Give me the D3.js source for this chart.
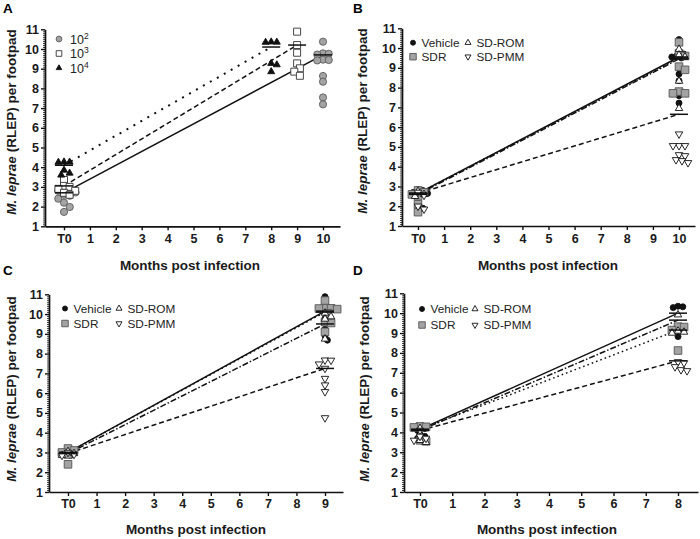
<!DOCTYPE html>
<html><head><meta charset="utf-8">
<script src="https://cdn.jsdelivr.net/npm/d3@7"></script>
<style>
body{margin:0;background:#fff;}
svg{display:block;font-family:Arial,"Liberation Sans",sans-serif;}
</style></head>
<body>
<svg id="chart" width="700" height="539"></svg>
<script>
// ---------------- DATA ----------------
const panelLetters = ["A","B","C","D"];
const xTickLabelsA = ["T0","1","2","3","4","5","6","7","8","9","10"];
const xTickLabelsB = ["T0","1","2","3","4","5","6","7","8","9","10"];
const xTickLabelsC = ["T0","1","2","3","4","5","6","7","8","9"];
const xTickLabelsD = ["T0","1","2","3","4","5","6","7","8"];
const yTicks = [1,2,3,4,5,6,7,8,9,10,11];
const yTitle = ["M. leprae", " (RLEP) per footpad"];
const xTitle = "Months post infection";

// Panel A: inoculum doses
const seriesA = ["10^2","10^3","10^4"];
const endMonthA = [10, 9, 8];
const A_e2_T0 = [2.92,2.85,2.8,2.72,2.6,2.55,2.4,2.2,1.98,1.73];
const A_e2_end = [10.37,9.78,9.76,9.72,9.46,9.44,9.42,8.63,8.34,7.54,7.19];
const A_e3_T0 = [3.35,3.05,3.0,2.9,2.8,2.7,2.6];
const A_e3_end = [10.88,10.2,9.81,9.27,9.02,8.85,8.64];
const A_e4_T0 = [4.27,4.26,4.25,3.85,3.7,3.6];
const A_e4_end = [10.36,10.35,10.34,9.27,9.2,8.85];
const A_means = [[2.7,9.7],[3.05,10.2],[4.1,10.1]];

// Panels B-D: treatment groups
const groups = ["Vehicle","SDR","SD-ROM","SD-PMM"];
const endMonthB = 10, endMonthC = 9, endMonthD = 8;
const B_veh_T0 = [2.85,2.8,2.7,2.65,2.6,2.05,1.9,1.8];
const B_veh_end = [10.43,9.8,9.7,9.6,9.55,9.5,8.69,8.35,7.59,7.22];
const B_sdr_T0 = [2.8,2.7,2.6,2.5,2.1,1.7];
const B_sdr_end = [10.29,9.73,9.6,9.06,8.9,7.8,7.71,7.71];
const B_rom_T0 = [2.75,2.6,2.5];
const B_rom_end = [9.94,9.65,9.55,8.33,6.95];
const B_pmm_T0 = [2.7,2.55,2.0,1.85];
const B_pmm_end = [5.65,5.06,5.06,5.06,4.6,4.55,4.35,4.3,4.2];
const B_means = [[2.65,9.55],[2.65,9.5],[2.6,9.45],[2.65,6.65]];

const C_veh_T0 = [3.15,3.05,2.95,2.85,2.4];
const C_veh_end = [10.88,10.3,10.25,9.78,9.23,8.9,8.68];
const C_sdr_T0 = [3.2,3.1,3.0,2.9,2.4];
const C_sdr_end = [10.68,10.3,10.29,10.28,10.25,10.04,9.6,9.55,9.1];
const C_rom_T0 = [3.05,2.95,2.85];
const C_rom_end = [10.05,9.87,9.75,8.74];
const C_pmm_T0 = [3.0,2.9,2.85];
const C_pmm_end = [7.67,7.66,7.47,7.25,6.74,6.41,6.07,4.75];
const C_means = [[3.0,10.15],[3.0,10.1],[2.95,9.5],[2.95,7.25]];

const D_veh_T0 = [4.3,4.2,4.1,3.9,3.8,3.7,3.55];
const D_veh_end = [10.35,10.32,10.28,9.25,9.2,9.15,8.82];
const D_sdr_T0 = [4.3,4.28,4.25,3.6,3.55];
const D_sdr_end = [9.32,9.3,9.15,8.12];
const D_rom_T0 = [4.2,3.9,3.6,3.5];
const D_rom_end = [9.92,9.1,9.05,9.0];
const D_pmm_T0 = [4.1,3.8,3.7,3.6];
const D_pmm_end = [7.55,7.5,7.3,7.15,7.1];
const D_means = [[4.15,10.0],[4.15,9.15],[4.1,9.65],[4.1,7.6]];

// ---------------- STYLES / LAYOUT ----------------
const svg = d3.select("#chart");
const FONT = 'Arial,"Liberation Sans",sans-serif';

const styleA = [
  {shape:"circle", d:7.2, fill:"#a3a3a3", stroke:"#5c5c5c", dash:null},
  {shape:"square", d:7, fill:"#ffffff", stroke:"#333", dash:"5,3"},
  {shape:"triangle", d:7, fill:"#111", stroke:"#111", dash:"2,6"}
];
const styleG = [
  {shape:"circle", d:6, fill:"#111", stroke:"#111", dash:null},
  {shape:"square", d:7.6, fill:"#a3a3a3", stroke:"#555", dash:"1.6,3"},
  {shape:"triangle", d:7.5, fill:"#fff", stroke:"#111", dash:"6,2,1.5,2"},
  {shape:"triangleDown", d:7.5, fill:"#fff", stroke:"#111", dash:"5,3"}
];

const panels = [
  {letter:0, axisX:45, right:340, t0:64, lastPx:323, lastM:10, yTop:29.3, yBot:226.3,
   ticks:xTickLabelsA, tickBase:243, titleBase:270, titleX:190, ylabX:11, ylabY:122},
  {letter:1, axisX:402, right:695, t0:418, lastPx:679, lastM:endMonthB, yTop:28.3, yBot:226,
   ticks:xTickLabelsB, tickBase:243, titleBase:270, titleX:548, ylabX:362, ylabY:121},
  {letter:2, axisX:49, right:343, t0:68, lastPx:325, lastM:endMonthC, yTop:294.3, yBot:492,
   ticks:xTickLabelsC, tickBase:508, titleBase:534, titleX:196, ylabX:11, ylabY:389},
  {letter:3, axisX:404, right:698, t0:420, lastPx:678, lastM:endMonthD, yTop:293.3, yBot:492,
   ticks:xTickLabelsD, tickBase:508, titleBase:534, titleX:547, ylabX:364, ylabY:389}
];
const letterPos = [[3,12.5],[353,12.5],[3,275],[353,275]];

function symbolPath(shape, d){
  if(shape==="circle") return d3.symbol(d3.symbolCircle, Math.PI*(d/2)*(d/2))();
  if(shape==="square") return d3.symbol(d3.symbolSquare, d*d)();
  return d3.symbol(d3.symbolTriangle, d*d*Math.sqrt(3)/4)();
}

function swarm(values, y, d){
  const order = values.map((v,i)=>({v,i})).sort((a,b)=>b.v-a.v);
  const placed=[]; const res=new Array(values.length);
  for(const p of order){
    const py=y(p.v); let off=0;
    for(let k=0;k<60;k++){
      const c = k===0?0:(k%2?1:-1)*Math.ceil(k/2)*d*0.4;
      if(placed.every(q=>Math.hypot(q.x-c,q.y-py)>=d*0.75)){off=c;break;}
    }
    placed.push({x:off,y:py}); res[p.i]=off;
  }
  return res;
}

function drawAxes(p){
  const g = svg.append("g");
  const x = d3.scaleLinear().domain([0,p.lastM]).range([p.t0,p.lastPx]);
  const y = d3.scaleLinear().domain([1,11]).range([p.yBot,p.yTop]);
  const minor=[]; for(let v=1; v<11.001; v+=0.1){ const r=Math.round(v*10)/10; if(Math.abs(r-Math.round(r))>0.01) minor.push(r);}
  g.append("g").attr("transform",`translate(${p.axisX},0)`)
    .call(d3.axisLeft(y).tickValues(minor).tickSize(2).tickFormat(""))
    .call(s=>s.select(".domain").remove())
    .selectAll("line").attr("stroke","#111").attr("stroke-width",0.8);
  const ya = g.append("g").attr("transform",`translate(${p.axisX},0)`)
    .call(d3.axisLeft(y).tickValues(yTicks).tickSize(4).tickSizeOuter(0).tickPadding(2).tickFormat(d3.format("d")));
  ya.select(".domain").attr("stroke","#111").attr("stroke-width",1.7);
  ya.selectAll(".tick line").attr("stroke","#111").attr("stroke-width",1.4);
  ya.selectAll("text").attr("font-family",FONT).attr("font-weight","bold").attr("font-size",12.5).attr("fill","#1a1a1a");
  const xx = d3.scaleLinear().domain([x.invert(p.axisX), x.invert(p.right)]).range([p.axisX,p.right]);
  const xa = g.append("g").attr("transform",`translate(0,${p.yBot})`)
    .call(d3.axisBottom(xx).tickValues(d3.range(p.ticks.length)).tickSize(4).tickSizeOuter(0).tickPadding(4)
      .tickFormat((d,i)=>p.ticks[i]));
  xa.select(".domain").attr("stroke","#111").attr("stroke-width",1.7);
  xa.selectAll(".tick line").attr("stroke","#111").attr("stroke-width",1.4);
  xa.selectAll("text").attr("font-family",FONT).attr("font-weight","bold").attr("font-size",12.5).attr("fill","#1a1a1a")
    .attr("y",null).attr("dy",null).attr("transform",`translate(0,${p.tickBase-p.yBot})`);
  svg.append("text").attr("x",p.titleX).attr("y",p.titleBase).attr("text-anchor","middle")
    .attr("font-family",FONT).attr("font-weight","bold").attr("font-size",13.5).attr("fill","#1a1a1a").text(xTitle);
  const yl = svg.append("text").attr("transform",`translate(${p.ylabX+4.5},${p.ylabY}) rotate(-90)`)
    .attr("text-anchor","middle").attr("font-family",FONT).attr("font-weight","bold").attr("font-size",13.5).attr("fill","#1a1a1a");
  yl.append("tspan").attr("font-style","italic").text(yTitle[0]);
  yl.append("tspan").text(yTitle[1]);
  svg.append("text").attr("x",letterPos[p.letter][0]).attr("y",letterPos[p.letter][1])
    .attr("font-family",FONT).attr("font-weight","bold").attr("font-size",13.5).text(panelLetters[p.letter]);
  return {x,y};
}

function drawSeries(sc, st, xs, means){
  svg.append("path").attr("d", d3.line()([[sc.x(xs[0]), sc.y(means[0])],[sc.x(xs[1]), sc.y(means[1])]]))
    .attr("fill","none").attr("stroke","#111").attr("stroke-width", st.dash==="2,6"?2:1.5)
    .attr("stroke-dasharray", st.dash);
}
function drawPoints(sc, st, xs, valsList){
  const g = svg.append("g");
  valsList.forEach((vals,k)=>{
    const offs = swarm(vals, sc.y, st.d);
    vals.forEach((v,i)=>{
      g.append("path").attr("d",symbolPath(st.shape, st.d))
        .attr("transform",`translate(${sc.x(xs[k])+offs[i]},${sc.y(v)})${st.shape==="triangleDown"?" rotate(180)":""}`)
        .attr("fill",st.fill).attr("stroke",st.stroke).attr("stroke-width",0.9);
    });
  });
}
function drawMeans(sc, xs, means){
  means.forEach((m,k)=>{
    svg.append("line").attr("x1",sc.x(xs[k])-9).attr("x2",sc.x(xs[k])+9)
      .attr("y1",sc.y(m)).attr("y2",sc.y(m)).attr("stroke","#111").attr("stroke-width",1.5);
  });
}

// ---------- Panel A ----------
{
  const sc = drawAxes(panels[0]);
  const dataA = [[A_e2_T0,A_e2_end],[A_e3_T0,A_e3_end],[A_e4_T0,A_e4_end]];
  dataA.forEach((d,i)=>drawSeries(sc, styleA[i], [0,endMonthA[i]], A_means[i]));
  dataA.forEach((d,i)=>drawPoints(sc, styleA[i], [0,endMonthA[i]], d));
  dataA.forEach((d,i)=>drawMeans(sc, [0,endMonthA[i]], A_means[i]));
  const lg = svg.append("g");
  const rows=[39,53.5,68];
  seriesA.forEach((s,i)=>{
    const st=styleA[i];
    lg.append("path").attr("d",symbolPath(st.shape, st.d*0.8)).attr("transform",`translate(59,${rows[i]})`)
      .attr("fill",st.fill).attr("stroke",st.stroke).attr("stroke-width",0.9);
    const t = lg.append("text").attr("x",70).attr("y",rows[i]+4.5).attr("font-family",FONT).attr("font-size",12.5).attr("fill","#222");
    const parts = s.split("^");
    t.append("tspan").text(parts[0]);
    t.append("tspan").attr("dy",-5).attr("font-size",8.5).text(parts[1]);
  });
}

// ---------- Panels B-D ----------
function groupPanel(p, sets, means, endM, legend){
  const sc = drawAxes(p);
  sets.forEach((d,i)=>drawSeries(sc, styleG[i], [0,endM], means[i]));
  sets.forEach((d,i)=>drawPoints(sc, styleG[i], [0,endM], d));
  sets.forEach((d,i)=>drawMeans(sc, [0,endM], means[i]));
  const lg = svg.append("g");
  const pos = [[legend.x1,legend.r1],[legend.x1,legend.r2],[legend.x2,legend.r1],[legend.x2,legend.r2]];
  groups.forEach((gname,i)=>{
    const st=styleG[i];
    const dd = st.shape==="circle"?5:st.shape==="square"?6.5:6;
    lg.append("path").attr("d",symbolPath(st.shape, dd))
      .attr("transform",`translate(${pos[i][0]},${pos[i][1]})${st.shape==="triangleDown"?" rotate(180)":""}`)
      .attr("fill",st.fill).attr("stroke",st.stroke).attr("stroke-width",0.9);
    lg.append("text").attr("x",pos[i][0]+8.5).attr("y",pos[i][1]+4.2).attr("font-family",FONT).attr("font-size",11.8)
      .attr("fill","#222").text(gname);
  });
}
groupPanel(panels[1], [[B_veh_T0,B_veh_end],[B_sdr_T0,B_sdr_end],[B_rom_T0,B_rom_end],[B_pmm_T0,B_pmm_end]], B_means, endMonthB,
  {x1:413, x2:468, r1:42.7, r2:56.7});
groupPanel(panels[2], [[C_veh_T0,C_veh_end],[C_sdr_T0,C_sdr_end],[C_rom_T0,C_rom_end],[C_pmm_T0,C_pmm_end]], C_means, endMonthC,
  {x1:65, x2:119, r1:308.5, r2:323.5});
groupPanel(panels[3], [[D_veh_T0,D_veh_end],[D_sdr_T0,D_sdr_end],[D_rom_T0,D_rom_end],[D_pmm_T0,D_pmm_end]], D_means, endMonthD,
  {x1:422, x2:475, r1:309, r2:325});
</script>
</body></html>
